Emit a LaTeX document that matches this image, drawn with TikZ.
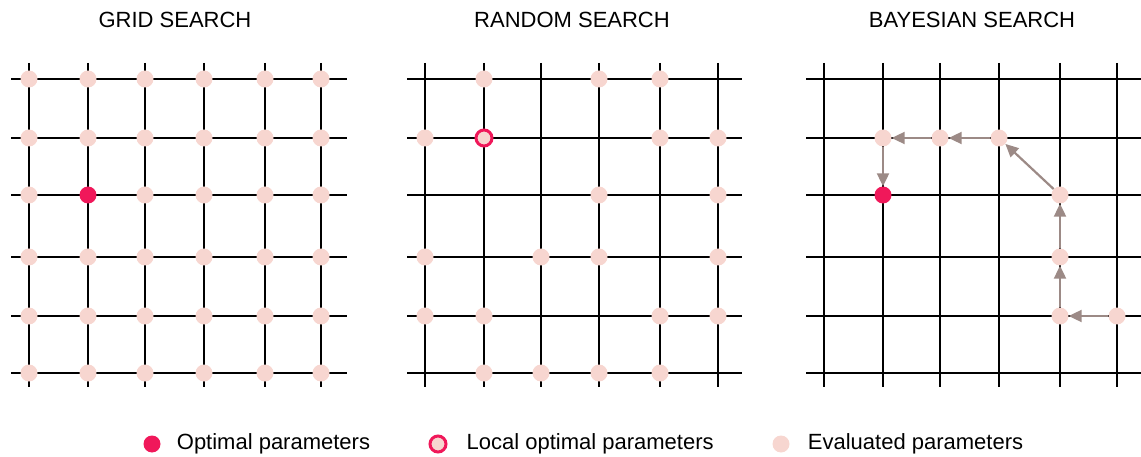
\documentclass[tikz,border=0pt]{standalone}
\usepackage{fontspec}
\setmainfont{Liberation Sans}
\usepackage{tikz}
\usetikzlibrary{arrows.meta,positioning}
\usepackage{xcolor}
\definecolor{evalpink}{HTML}{F7D6D0}
\definecolor{optred}{HTML}{F0185A}
\definecolor{stepgrey}{HTML}{9C8A86}

\begin{document}
\begin{tikzpicture}[
  x=1pt, y=-1pt,
  gridline/.style={line width=2pt, black},
  evaldot/.style={circle, fill=evalpink, inner sep=0pt, minimum size=17pt},
  optdot/.style={circle, fill=optred, inner sep=0pt, minimum size=17pt},
  localdot/.style={circle, fill=evalpink, draw=optred, line width=3pt, inner sep=0pt, minimum size=16pt},
  title/.style={font=\fontsize{22}{26}\selectfont, anchor=base},
  legend/.style={font=\fontsize{22}{26}\selectfont, inner sep=0pt},
  stepto/.style={-{Triangle[length=13pt,width=12pt]}, line width=2.2pt, stepgrey}
]
\useasboundingbox (0,0) rectangle (1141,457);

% rows, shared by the three panels
\foreach \y [count=\r] in {79,138,195,257,316,373}
  \coordinate (row\r) at (0,\y);

% GRID SEARCH
\node[title] (t-grid) at (175,28) {GRID SEARCH};
\foreach \y in {79,138,195,257,316,373}
  \draw[gridline] (11,\y) -- (347,\y);
\foreach \x [count=\c] in {29,88,145,204,265,321} {
  \draw[gridline] (\x,63) -- (\x,387);
  \coordinate (gcol\c) at (\x,0);
}
\foreach \c in {1,...,6}
  \foreach \r in {1,...,6} {
    \def\dotkind{evaldot}
    \ifnum\c\r=23 \def\dotkind{optdot}\fi
    \node[\dotkind] (g-\c-\r) at (gcol\c |- row\r) {};
  }

% RANDOM SEARCH
\node[title] (t-random) at (572,28) {RANDOM SEARCH};
\foreach \y in {79,138,195,257,316,373}
  \draw[gridline] (407,\y) -- (742,\y);
\foreach \x [count=\c] in {425,484,541,599,660,718} {
  \draw[gridline] (\x,63) -- (\x,387);
  \coordinate (rcol\c) at (\x,0);
}
\foreach \c/\r in {2/1,4/1,5/1, 1/2,5/2,6/2, 4/3,6/3, 1/4,3/4,4/4,6/4,
                   1/5,2/5,5/5,6/5, 2/6,3/6,4/6,5/6}
  \node[evaldot] (r-\c-\r) at (rcol\c |- row\r) {};
\node[localdot] (r-2-2) at (rcol2 |- row2) {};

% BAYESIAN SEARCH
\node[title] (t-bayes) at (972,28) {BAYESIAN SEARCH};
\foreach \y in {79,138,195,257,316,373}
  \draw[gridline] (806,\y) -- (1141,\y);
\foreach \x [count=\c] in {824,883,940,999,1060,1117} {
  \draw[gridline] (\x,63) -- (\x,387);
  \coordinate (bcol\c) at (\x,0);
}
\foreach \c/\r in {2/2,3/2,4/2, 5/3, 5/4, 5/5,6/5}
  \node[evaldot] (b-\c-\r) at (bcol\c |- row\r) {};
\node[optdot] (b-2-3) at (bcol2 |- row3) {};
\foreach \from/\to in {6-5/5-5, 5-5/5-4, 5-4/5-3, 5-3/4-2, 4-2/3-2, 3-2/2-2, 2-2/2-3}
  \draw[stepto] (b-\from) -- (b-\to);

% legend
\node[optdot] (l-opt) at (152,444) {};
\node[legend, right=16pt of l-opt] (l-opt-txt) {Optimal parameters};
\node[localdot] (l-local) at (438,444) {};
\node[legend, right=19pt of l-local] (l-local-txt) {Local optimal parameters};
\node[evaldot] (l-eval) at (781,444) {};
\node[legend, right=18pt of l-eval] (l-eval-txt) {Evaluated parameters};
\end{tikzpicture}
\end{document}
